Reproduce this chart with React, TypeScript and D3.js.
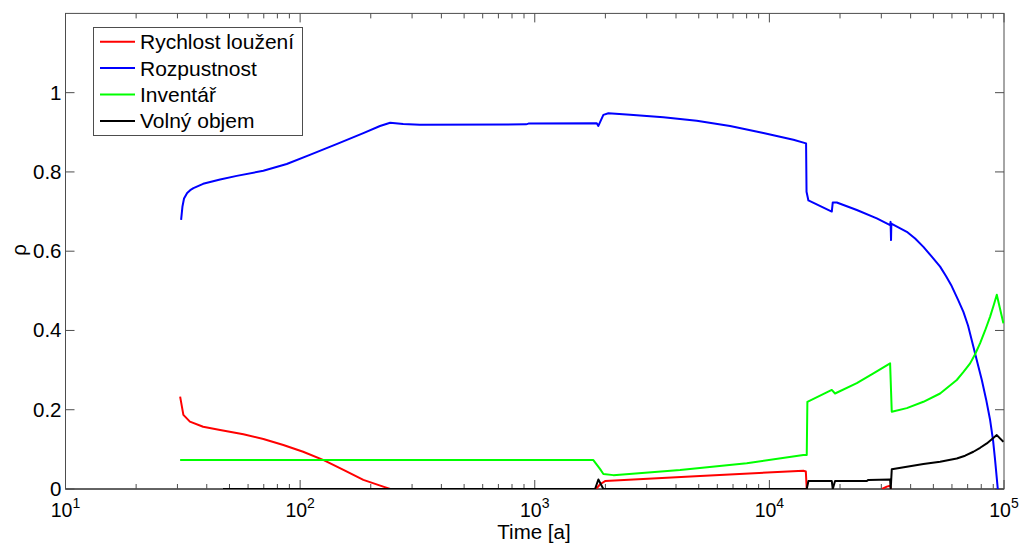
import React from "react";
import * as d3 from "d3";

type P = [number, number];

const seriesNames = ["Rychlost loužení", "Rozpustnost", "Inventář", "Volný objem"];
const seriesColors = ["#ff0000", "#0000ff", "#00ff00", "#000000"];

// NaN marks a gap (the zero stretches of this series lie under the black one)
const rychlost: P[] = [
  [30.8, 0.233], [31.8, 0.187], [33.9, 0.17], [38.6, 0.157], [45.6, 0.149], [57.3, 0.138],
  [69.7, 0.126], [84.8, 0.111], [103, 0.094], [126, 0.073], [153, 0.048], [186, 0.023],
  [226, 0.006], [242, 0], [1825, 0], [1900, 0.012], [1994, 0.02], [5065, 0.033],
  [13960, 0.046], [14300, 0.044], [14430, 0], [14500, NaN], [30230, 0], [31650, 0.006],
  [32700, 0.008], [33000, 0],
];

const rozpustnost: P[] = [
  [31.1, 0.679], [31.5, 0.712], [32.0, 0.733], [33.0, 0.747], [34.0, 0.754], [35.1, 0.759],
  [38.6, 0.77], [45.6, 0.781], [53.7, 0.79], [69.7, 0.803], [87.7, 0.82], [110, 0.843],
  [143, 0.87], [186, 0.898], [219, 0.916], [242, 0.924], [275, 0.921], [324, 0.919],
  [918, 0.92], [940, 0.922], [1838, 0.923], [1867, 0.916], [1961, 0.944], [2060, 0.948],
  [2548, 0.944], [3534, 0.938], [4903, 0.929], [6800, 0.916], [9428, 0.898], [12660, 0.881],
  [14336, 0.872], [14400, 0.75], [14667, 0.728], [18450, 0.7], [18630, 0.723], [19380, 0.723],
  [23590, 0.704], [28700, 0.683], [32700, 0.666], [32850, 0.674], [33000, 0.628], [33100, 0.67],
  [33240, 0.669], [38530, 0.649], [41800, 0.632], [45340, 0.611], [48920, 0.588], [53420, 0.561],
  [56650, 0.537], [59500, 0.515], [63730, 0.477], [67140, 0.447], [70300, 0.412], [74060, 0.359],
  [76800, 0.322], [80440, 0.275], [83900, 0.226], [87270, 0.174], [89850, 0.122], [91630, 0.073],
  [94100, 0.0],
];

const inventar: P[] = [
  [30.8, 0.073], [1777, 0.073], [1900, 0.05], [1961, 0.038], [2163, 0.035], [4163, 0.048],
  [8010, 0.065], [13960, 0.086], [14430, 0.086], [14520, 0.22], [18450, 0.25], [19050, 0.241],
  [23590, 0.267], [27760, 0.292], [32700, 0.317], [33240, 0.195], [38530, 0.204], [45340, 0.22],
  [53420, 0.241], [62910, 0.275], [66930, 0.294], [71710, 0.317], [75300, 0.34], [79120, 0.368],
  [83080, 0.4], [87270, 0.435], [90500, 0.465], [93170, 0.49], [99400, 0.418],
];

const volnyObjem: P[] = [
  [46.9, 0], [1807, 0], [1867, 0.024], [1961, 0], [14430, 0], [14667, 0.02], [18450, 0.02],
  [18630, 0], [19050, 0.02], [26020, 0.02], [26420, 0.023], [32700, 0.024], [32900, 0],
  [33240, 0.05], [45340, 0.063], [53420, 0.069], [62910, 0.077], [68270, 0.084], [74060, 0.094],
  [79120, 0.104], [84480, 0.115], [88980, 0.126], [93170, 0.136], [99400, 0.119],
];

const allSeries: P[][] = [rychlost, rozpustnost, inventar, volnyObjem];

const yTicks = [0, 0.2, 0.4, 0.6, 0.8, 1];
const yTickLabels = ["0", "0.2", "0.4", "0.6", "0.8", "1"];
const xMajor = [10, 100, 1000, 10000, 100000];
const xMajorExp = ["1", "2", "3", "4", "5"];

export default function App() {
  const left = 65.5, right = 1004, top = 13.4, bottom = 489;
  const x = d3.scaleLog().domain([10, 1e5]).range([left, right]);
  const y = d3.scaleLinear().domain([0, 1.2]).range([bottom, top]);
  const line = d3
    .line<P>()
    .defined((d) => !isNaN(d[1]))
    .x((d) => x(d[0]))
    .y((d) => y(d[1]));

  const minor: number[] = [];
  for (let dec = 10; dec < 1e5; dec *= 10) for (let k = 2; k <= 9; k++) minor.push(dec * k);

  const frame = "#4d4d4d";
  const font = "Liberation Sans, Arial, sans-serif";

  return (
    <svg width={1020} height={543} style={{ position: "absolute", left: 0, top: 0, background: "#fff" }} fontFamily={font}>
      <defs>
        <clipPath id="plot">
          <rect x={left} y={top} width={right - left} height={bottom - top} />
        </clipPath>
      </defs>
      <rect x={0} y={0} width={1020} height={543} fill="#fff" />
      <rect x={left} y={top} width={right - left} height={bottom - top} fill="none" stroke={frame} strokeWidth={1} />
      <line x1={left} x2={right} y1={bottom} y2={bottom} stroke="#222" strokeWidth={1} />
      {yTicks.map((t, i) => (
        <g key={"y" + i}>
          <line x1={left} x2={left + 9} y1={y(t)} y2={y(t)} stroke={frame} />
          <line x1={right - 9} x2={right} y1={y(t)} y2={y(t)} stroke={frame} />
          <text x={left - 4} y={y(t) + 7} textAnchor="end" fontSize={20.5} fill="#000">{yTickLabels[i]}</text>
        </g>
      ))}
      {xMajor.map((t, i) => (
        <g key={"x" + i}>
          <line x1={x(t)} x2={x(t)} y1={bottom} y2={bottom - 9} stroke={frame} />
          <line x1={x(t)} x2={x(t)} y1={top} y2={top + 9} stroke={frame} />
          <text x={x(t)} y={517} textAnchor="middle" fontSize={19.5} fill="#000">
            10<tspan dy={-9} fontSize={14}>{xMajorExp[i]}</tspan>
          </text>
        </g>
      ))}
      {minor.map((t, i) => (
        <g key={"m" + i}>
          <line x1={x(t)} x2={x(t)} y1={bottom} y2={bottom - 5} stroke={frame} />
          <line x1={x(t)} x2={x(t)} y1={top} y2={top + 5} stroke={frame} />
        </g>
      ))}
      <g clipPath="url(#plot)">
        {allSeries.map((s, i) => (
          <path key={"s" + i} d={line(s) || ""} fill="none" stroke={seriesColors[i]} strokeWidth={2} strokeLinejoin="round" />
        ))}
      </g>
      <text x={534} y={539} textAnchor="middle" fontSize={20.5} fill="#000">Time [a]</text>
      <text transform="translate(26,250) rotate(-90)" textAnchor="middle" fontSize={20.5} fill="#000">ρ</text>
      <rect x={93.5} y={27.5} width={209} height={108} fill="#fff" stroke={frame} strokeWidth={1} />
      {seriesNames.map((n, i) => (
        <g key={"l" + i}>
          <line x1={100} x2={135} y1={41.7 + i * 26.4} y2={41.7 + i * 26.4} stroke={seriesColors[i]} strokeWidth={2} />
          <text x={140} y={41.7 + i * 26.4 + 7.5} fontSize={21} fill="#000">{n}</text>
        </g>
      ))}
    </svg>
  );
}
